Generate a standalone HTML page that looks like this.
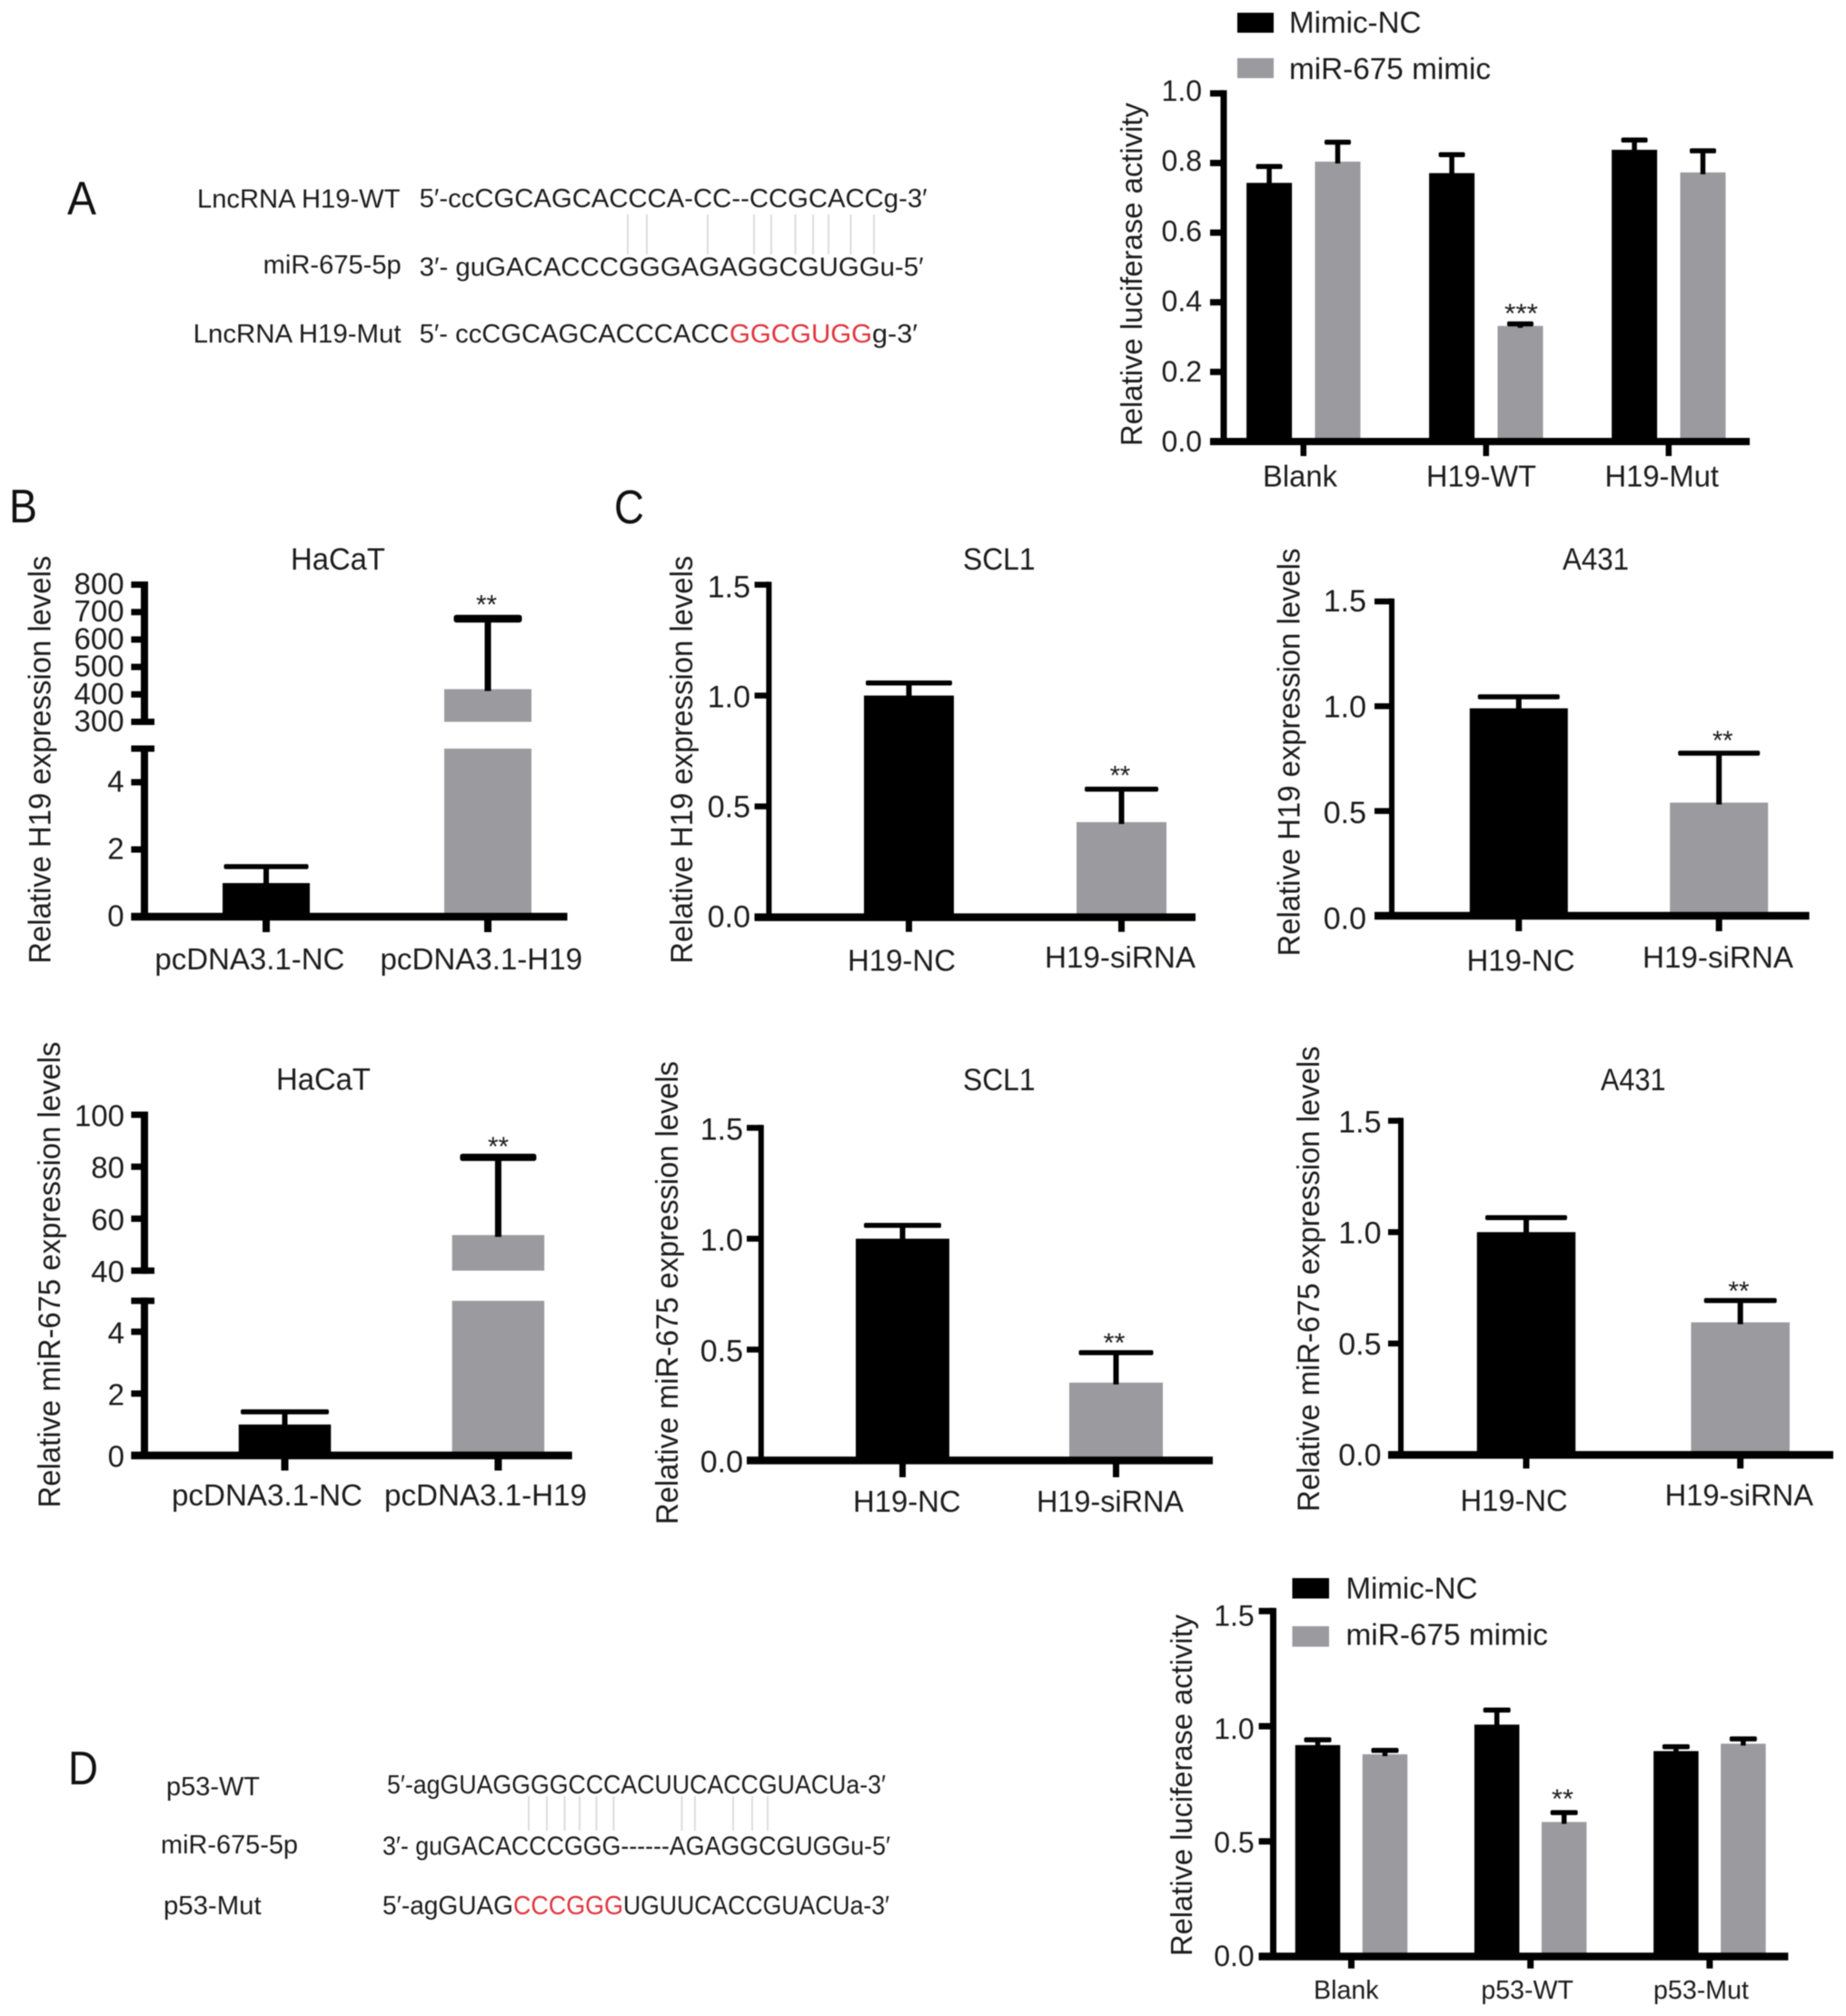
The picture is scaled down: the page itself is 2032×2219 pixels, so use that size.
<!DOCTYPE html>
<html lang="en">
<head>
<meta charset="utf-8">
<title>LncRNA H19, miR-675 and p53 figure</title>
<style>
  html, body { margin: 0; padding: 0; background: #fff; }
  #figure { display: block; width: 2032px; height: 2219px; filter: blur(0.6px); }
  text { font-family: "Liberation Sans", "DejaVu Sans", sans-serif; fill: #1c1c1c; }
  .red { fill: #e0333c; }
  .seq { font-size: 29px; }
  .letter { font-size: 52px; fill: #111; }
  .pair { stroke: #dcdcdc; stroke-width: 2; }
</style>
</head>
<body>
<svg id="figure" xmlns="http://www.w3.org/2000/svg" width="2032" height="2219" viewBox="0 0 2032 2219">
  <rect x="0" y="0" width="2032" height="2219" fill="#fff"/>

  <text class="letter" x="74" y="236" textLength="32" lengthAdjust="spacingAndGlyphs">A</text>
  <text class="letter" x="10" y="575" textLength="31" lengthAdjust="spacingAndGlyphs">B</text>
  <text class="letter" x="676" y="576" textLength="33" lengthAdjust="spacingAndGlyphs">C</text>
  <text class="letter" x="75" y="1964" textLength="33" lengthAdjust="spacingAndGlyphs">D</text>

  <g>
    <text class="seq" x="217" y="228.5" textLength="223.5" lengthAdjust="spacingAndGlyphs">LncRNA H19-WT</text>
    <text class="seq" x="461.6" y="228" textLength="559" lengthAdjust="spacingAndGlyphs">5′-ccCGCAGCACCCA-CC--CCGCACCg-3′</text>
    <text class="seq" x="289.7" y="301" textLength="152" lengthAdjust="spacingAndGlyphs">miR-675-5p</text>
    <text class="seq" x="461.6" y="303.5" textLength="555" lengthAdjust="spacingAndGlyphs">3′- guGACACCCGGGAGAGGCGUGGu-5′</text>
    <text class="seq" x="212.6" y="377" textLength="229" lengthAdjust="spacingAndGlyphs">LncRNA H19-Mut</text>
    <text class="seq" x="461.6" y="377" textLength="341" lengthAdjust="spacingAndGlyphs">5′- ccCGCAGCACCCACC</text>
    <text class="seq red" x="803" y="377" textLength="157" lengthAdjust="spacingAndGlyphs">GGCGUGG</text>
    <text class="seq" x="960" y="377" textLength="50" lengthAdjust="spacingAndGlyphs">g-3′</text>
    <g>
      <line class="pair" x1="691" x2="691" y1="236" y2="280"/>
      <line class="pair" x1="712" x2="712" y1="236" y2="280"/>
      <line class="pair" x1="779" x2="779" y1="236" y2="280"/>
      <line class="pair" x1="830" x2="830" y1="236" y2="280"/>
      <line class="pair" x1="849" x2="849" y1="236" y2="280"/>
      <line class="pair" x1="875.5" x2="875.5" y1="236" y2="280"/>
      <line class="pair" x1="895" x2="895" y1="236" y2="280"/>
      <line class="pair" x1="912" x2="912" y1="236" y2="280"/>
      <line class="pair" x1="936.5" x2="936.5" y1="236" y2="280"/>
      <line class="pair" x1="962" x2="962" y1="236" y2="280"/>
    </g>
  </g>

  <g>
    <text class="seq" x="183" y="1976" textLength="103" lengthAdjust="spacingAndGlyphs">p53-WT</text>
    <text class="seq" x="426" y="1974" textLength="549" lengthAdjust="spacingAndGlyphs">5′-agGUAGGGGCCCACUUCACCGUACUa-3′</text>
    <text class="seq" x="177" y="2040" textLength="151" lengthAdjust="spacingAndGlyphs">miR-675-5p</text>
    <text class="seq" x="421" y="2041.5" textLength="559" lengthAdjust="spacingAndGlyphs">3′- guGACACCCGGG------AGAGGCGUGGu-5′</text>
    <text class="seq" x="180" y="2107" textLength="107.6" lengthAdjust="spacingAndGlyphs">p53-Mut</text>
    <text class="seq" x="421" y="2107" textLength="144" lengthAdjust="spacingAndGlyphs">5′-agGUAG</text>
    <text class="seq red" x="565" y="2107" textLength="121" lengthAdjust="spacingAndGlyphs">CCCGGG</text>
    <text class="seq" x="686" y="2107" textLength="293" lengthAdjust="spacingAndGlyphs">UGUUCACCGUACUa-3′</text>
    <g>
      <line class="pair" x1="582" x2="582" y1="1977" y2="2015"/>
      <line class="pair" x1="602" x2="602" y1="1977" y2="2015"/>
      <line class="pair" x1="621.5" x2="621.5" y1="1977" y2="2015"/>
      <line class="pair" x1="638" x2="638" y1="1977" y2="2015"/>
      <line class="pair" x1="656.5" x2="656.5" y1="1977" y2="2015"/>
      <line class="pair" x1="675.5" x2="675.5" y1="1977" y2="2015"/>
      <line class="pair" x1="750.5" x2="750.5" y1="1977" y2="2015"/>
      <line class="pair" x1="765" x2="765" y1="1977" y2="2015"/>
      <line class="pair" x1="807" x2="807" y1="1977" y2="2015"/>
      <line class="pair" x1="828" x2="828" y1="1977" y2="2015"/>
      <line class="pair" x1="845" x2="845" y1="1977" y2="2015"/>
    </g>
  </g>

  <g>
    <rect x="1362" y="14" width="40" height="22" fill="#000"/>
    <text x="1419" y="36" font-size="33" textLength="145.5" lengthAdjust="spacingAndGlyphs">Mimic-NC</text>
    <rect x="1362" y="64" width="40" height="22" fill="#9a9a9f"/>
    <text x="1419" y="87" font-size="33" textLength="222" lengthAdjust="spacingAndGlyphs">miR-675 mimic</text>
  </g>
  <g>
    <rect x="1422.5" y="1737" width="40.5" height="22.5" fill="#000"/>
    <text x="1481.5" y="1759.5" font-size="33" textLength="145" lengthAdjust="spacingAndGlyphs">Mimic-NC</text>
    <rect x="1422.5" y="1790" width="40.5" height="22.5" fill="#9a9a9f"/>
    <text x="1481.5" y="1810.5" font-size="33" textLength="222.5" lengthAdjust="spacingAndGlyphs">miR-675 mimic</text>
  </g>

  <g id="charts"></g>
</svg>

<script>
// ---------- Data ----------
const lucH19Categories = ['Blank', 'H19-WT', 'H19-Mut'];
const lucH19MimicNC = [0.743, 0.771, 0.838];
const lucH19MimicNCErr = [0.047, 0.053, 0.028];
const lucH19Mimic675 = [0.804, 0.332, 0.773];
const lucH19Mimic675Err = [0.056, 0.006, 0.062];
const lucH19Ticks = [0, 0.2, 0.4, 0.6, 0.8, 1.0];
const lucH19TickLabels = ['0.0', '0.2', '0.4', '0.6', '0.8', '1.0'];

const hacatH19Categories = ['pcDNA3.1-NC', 'pcDNA3.1-H19'];
const hacatH19Values = [1, 419];
const hacatH19Err = [0.49, 257];
const hacatH19Ticks = [0, 2, 4, 5, 300, 400, 500, 600, 700, 800];
const hacatH19TickLabels = ['0', '2', '4', '', '300', '400', '500', '600', '700', '800'];

const hacat675Categories = ['pcDNA3.1-NC', 'pcDNA3.1-H19'];
const hacat675Values = [1, 53.7];
const hacat675Err = [0.41, 29.9];
const hacat675Ticks = [0, 2, 4, 5, 40, 60, 80, 100];
const hacat675TickLabels = ['0', '2', '4', '', '40', '60', '80', '100'];

const sirnaCategories = ['H19-NC', 'H19-siRNA'];
const sirnaTicks = [0, 0.5, 1.0, 1.5];
const sirnaTickLabels = ['0.0', '0.5', '1.0', '1.5'];

const scl1H19Values = [1, 0.429];
const scl1H19Err = [0.057, 0.149];
const a431H19Values = [0.99, 0.54];
const a431H19Err = [0.055, 0.236];
const scl1675Values = [1, 0.351];
const scl1675Err = [0.06, 0.135];
const a431675Values = [1, 0.595];
const a431675Err = [0.065, 0.098];

const lucP53Categories = ['Blank', 'p53-WT', 'p53-Mut'];
const lucP53MimicNC = [0.918, 1.007, 0.892];
const lucP53MimicNCErr = [0.023, 0.063, 0.019];
const lucP53Mimic675 = [0.878, 0.584, 0.924];
const lucP53Mimic675Err = [0.017, 0.041, 0.021];
const lucP53Ticks = [0, 0.5, 1.0, 1.5];
const lucP53TickLabels = ['0.0', '0.5', '1.0', '1.5'];

// ---------- Drawing helpers ----------
const SVG_NS = 'http://www.w3.org/2000/svg';
const BLACK = '#000000';
const GREY = '#9a9a9f';

function linear(d0, d1, r0, r1) {
  return function (v) { return r0 + (v - d0) * (r1 - r0) / (d1 - d0); };
}

function drawRect(parent, x, y, w, h, fill, name, radius) {
  const el = document.createElementNS(SVG_NS, 'rect');
  
  
  el.setAttribute('x', x);
  el.setAttribute('y', y);
  el.setAttribute('width', w);
  el.setAttribute('height', h);
  el.setAttribute('fill', fill);
  if (radius) el.setAttribute('rx', radius);
  parent.appendChild(el);
  return el;
}

function drawText(parent, content, x, y, size, name, anchor, length, rotate) {
  const el = document.createElementNS(SVG_NS, 'text');
  
  
  el.setAttribute('x', x);
  el.setAttribute('y', y);
  el.setAttribute('font-size', size);
  if (anchor) el.setAttribute('text-anchor', anchor);
  if (length) {
    el.setAttribute('textLength', length);
    el.setAttribute('lengthAdjust', 'spacingAndGlyphs');
  }
  if (rotate) el.setAttribute('transform', 'rotate(-90 ' + x + ' ' + y + ')');
  el.textContent = content;
  parent.appendChild(el);
  return el;
}

function drawChart(name, c) {
  const root = document.getElementById('charts');
  const g = document.createElementNS(SVG_NS, 'g');
  
  
  root.appendChild(g);

  const segments = c.segments.map(function (s) {
    return { d0: s.d[0], d1: s.d[1], r0: s.r[0], r1: s.r[1], scale: linear(s.d[0], s.d[1], s.r[0], s.r[1]) };
  });
  const y = function (v) {
    for (let i = 0; i < segments.length; i++) {
      if (v <= segments[i].d1) return segments[i].scale(v);
    }
    return segments[segments.length - 1].scale(v);
  };
  const groupX = linear(0, 1, c.groupX[0], c.groupX[1]);
  const y0 = y(0);

  // bars and error bars
  c.series.forEach(function (s, si) {
    c.categories.forEach(function (cat, i) {
      const slot = c.series.length > 1 ? si : i;
      const cx = groupX(i) + c.offsets[c.series.length > 1 ? si : 0];
      const v = s.values[i];
      const fill = c.series.length > 1 ? s.fill : c.barFills[i];
      segments.forEach(function (seg) {
        if (v > seg.d0) {
          const top = seg.scale(Math.min(v, seg.d1));
          const bottom = seg.scale(seg.d0);
          drawRect(g, cx - c.barW / 2, top, c.barW, bottom - top, fill, 'bar-' + s.key + '-' + cat);
        }
      });
      const upper = y(v + s.errors[i]);
      const capW = c.capW[slot];
      const capH = c.capH[slot];
      const stemW = c.stemW[slot];
      drawRect(g, cx - stemW / 2, upper, stemW, y(v) - upper + 2, BLACK, 'error-stem-' + s.key + '-' + cat);
      drawRect(g, cx - capW / 2, upper - capH / 2, capW, capH, BLACK, 'error-cap-' + s.key + '-' + cat, capH / 3);
    });
  });

  // y axis
  segments.forEach(function (seg) {
    drawRect(g, c.axisX - c.axisW / 2, seg.r1 - c.tickH / 2, c.axisW, seg.r0 - seg.r1 + c.tickH, BLACK, 'y-axis-line');
  });
  const tickMax = c.ticks[c.ticks.length - 1];
  const dy = linear(0, tickMax, c.tickDy[0], c.tickDy[1]);
  c.ticks.forEach(function (t, i) {
    const ty = y(t);
    const long = (c.longTicks || []).indexOf(t) >= 0;
    const right = long ? c.axisX + 11 : c.axisX;
    drawRect(g, c.tickLeft, ty - c.tickH / 2, right - c.tickLeft, c.tickH, BLACK, 'y-tick');
    if (c.tickLabels[i]) {
      drawText(g, c.tickLabels[i], c.tickRight, ty + dy(t), c.tickFont, 'y-tick-label', 'end');
    }
  });

  // x axis
  drawRect(g, c.tickLeft, y0 - c.xAxisH / 2, c.xAxisRight - c.tickLeft, c.xAxisH, BLACK, 'x-axis-line');
  c.categories.forEach(function (cat, i) {
    drawRect(g, groupX(i) - c.xTickW / 2, y0, c.xTickW, c.xTickBottom - y0, BLACK, 'x-tick');
    const lab = c.xLabels[i];
    drawText(g, cat, lab.x, lab.y, c.xFont, 'x-tick-label', null, lab.w);
  });

  // y title, chart title, significance stars
  drawText(g, c.yTitle.text, c.yTitle.x, c.yTitle.y, c.yTitle.size, 'y-axis-title', null, c.yTitle.len, true);
  if (c.title) drawText(g, c.title.text, c.title.x, c.title.y, 34, 'chart-title', null, c.title.w);
  const st = c.star;
  drawText(g, st.text, st.x, st.bottom + 10, 30, 'significance-stars', null, st.w);
}

// ---------- Charts ----------
drawChart('luciferase-h19-chart', {
  categories: lucH19Categories,
  series: [
    { key: 'mimic-nc', values: lucH19MimicNC, errors: lucH19MimicNCErr, fill: BLACK },
    { key: 'mir-675-mimic', values: lucH19Mimic675, errors: lucH19Mimic675Err, fill: GREY }
  ],
  segments: [{ d: [0, 1], r: [486, 102.8] }],
  ticks: lucH19Ticks, tickLabels: lucH19TickLabels,
  axisX: 1347, axisW: 7, tickLeft: 1332, tickH: 7,
  xAxisRight: 1926, xAxisH: 8, tickRight: 1323, tickDy: [11, 8], tickFont: 32,
  groupX: [1434.8, 1635.8], offsets: [-37.7, 37.7], barW: 50,
  capW: [29, 29], capH: [5.5, 5.5], stemW: [5.5, 5.5],
  xTickW: 6.5, xTickBottom: 502, xFont: 33,
  xLabels: [{ x: 1390, w: 82, y: 535.5 }, { x: 1570, w: 121, y: 535.5 }, { x: 1766.5, w: 125.5, y: 535.5 }],
  yTitle: { text: 'Relative luciferase activity', x: 1257, y: 491, len: 378, size: 33 },
  star: { text: '***', x: 1656, w: 37, bottom: 345 }
});

drawChart('hacat-h19-chart', {
  categories: hacatH19Categories,
  series: [{ key: 'hacat-h19', values: hacatH19Values, errors: hacatH19Err }],
  barFills: [BLACK, GREY],
  segments: [{ d: [0, 5], r: [1009, 824] }, { d: [300, 800], r: [794.5, 643.5] }],
  ticks: hacatH19Ticks, tickLabels: hacatH19TickLabels, longTicks: [5, 300],
  axisX: 159, axisW: 8, tickLeft: 144.4, tickH: 7,
  xAxisRight: 624.5, xAxisH: 8.5, tickRight: 136.6, tickDy: [10.5, 10.5], tickFont: 33,
  groupX: [293, 537], offsets: [0], barW: 96,
  capW: [93, 75], capH: [5.5, 8.5], stemW: [6, 7],
  xTickW: 8, xTickBottom: 1026, xFont: 33,
  xLabels: [{ x: 170.4, w: 209, y: 1066.8 }, { x: 418.5, w: 222.5, y: 1066.8 }],
  yTitle: { text: 'Relative H19 expression levels', x: 55.5, y: 1060.7, len: 449, size: 34 },
  title: { text: 'HaCaT', x: 320, w: 104, y: 626.8 },
  star: { text: '**', x: 524, w: 23, bottom: 665.7 }
});

drawChart('hacat-mir-675-chart', {
  categories: hacat675Categories,
  series: [{ key: 'hacat-mir-675', values: hacat675Values, errors: hacat675Err }],
  barFills: [BLACK, GREY],
  segments: [{ d: [0, 5], r: [1602, 1431.8] }, { d: [40, 100], r: [1398.6, 1227] }],
  ticks: hacat675Ticks, tickLabels: hacat675TickLabels, longTicks: [5, 40],
  axisX: 159, axisW: 8, tickLeft: 144.4, tickH: 7,
  xAxisRight: 629.7, xAxisH: 8.5, tickRight: 137, tickDy: [12.5, 12.5], tickFont: 33,
  groupX: [313.5, 548.4], offsets: [0], barW: 101.5,
  capW: [97, 84], capH: [5.5, 8], stemW: [6, 7],
  xTickW: 8, xTickBottom: 1618.6, xFont: 33,
  xLabels: [{ x: 189, w: 210, y: 1656.8 }, { x: 423, w: 223, y: 1656.8 }],
  yTitle: { text: 'Relative miR-675 expression levels', x: 66, y: 1659.6, len: 513, size: 34 },
  title: { text: 'HaCaT', x: 304, w: 104, y: 1199.6 },
  star: { text: '**', x: 537, w: 23, bottom: 1262 }
});

drawChart('scl1-h19-chart', {
  categories: sirnaCategories,
  series: [{ key: 'scl1-h19', values: scl1H19Values, errors: scl1H19Err }],
  barFills: [BLACK, GREY],
  segments: [{ d: [0, 1.5], r: [1009.6, 643.6] }],
  ticks: sirnaTicks, tickLabels: sirnaTickLabels,
  axisX: 846.4, axisW: 6, tickLeft: 830.6, tickH: 6.5,
  xAxisRight: 1316, xAxisH: 8.5, tickRight: 826, tickDy: [11, 14], tickFont: 34,
  groupX: [1000.5, 1234.5], offsets: [0], barW: 99,
  capW: [95, 81], capH: [5.5, 5.5], stemW: [6, 6],
  xTickW: 7, xTickBottom: 1025.7, xFont: 33,
  xLabels: [{ x: 933, w: 119, y: 1068.6 }, { x: 1150, w: 166, y: 1065 }],
  yTitle: { text: 'Relative H19 expression levels', x: 762, y: 1060.7, len: 449, size: 34 },
  title: { text: 'SCL1', x: 1060, w: 79.5, y: 627 },
  star: { text: '**', x: 1221.7, w: 22.5, bottom: 853.6 }
});

drawChart('a431-h19-chart', {
  categories: sirnaCategories,
  series: [{ key: 'a431-h19', values: a431H19Values, errors: a431H19Err }],
  barFills: [BLACK, GREY],
  segments: [{ d: [0, 1.5], r: [1008, 662] }],
  ticks: sirnaTicks, tickLabels: sirnaTickLabels,
  axisX: 1532, axisW: 6, tickLeft: 1513, tickH: 6.5,
  xAxisRight: 1991.6, xAxisH: 8.5, tickRight: 1504, tickDy: [14.5, 11], tickFont: 34,
  groupX: [1671.8, 1892.2], offsets: [0], barW: 108,
  capW: [90, 90], capH: [5.5, 5.5], stemW: [6, 6],
  xTickW: 7, xTickBottom: 1025, xFont: 33,
  xLabels: [{ x: 1614.5, w: 119, y: 1068.6 }, { x: 1808, w: 166, y: 1065 }],
  yTitle: { text: 'Relative H19 expression levels', x: 1430.6, y: 1052.5, len: 449, size: 34 },
  title: { text: 'A431', x: 1720, w: 73, y: 627 },
  star: { text: '**', x: 1885, w: 22.6, bottom: 815 }
});

drawChart('scl1-mir-675-chart', {
  categories: sirnaCategories,
  series: [{ key: 'scl1-mir-675', values: scl1675Values, errors: scl1675Err }],
  barFills: [BLACK, GREY],
  segments: [{ d: [0, 1.5], r: [1607.5, 1241.4] }],
  ticks: sirnaTicks, tickLabels: sirnaTickLabels,
  axisX: 837.8, axisW: 6, tickLeft: 822, tickH: 6.5,
  xAxisRight: 1335, xAxisH: 8.5, tickRight: 818, tickDy: [13, 13], tickFont: 34,
  groupX: [993.5, 1228.5], offsets: [0], barW: 103,
  capW: [85, 82], capH: [5.5, 5.5], stemW: [6, 6],
  xTickW: 7, xTickBottom: 1626, xFont: 33,
  xLabels: [{ x: 939, w: 118.6, y: 1664 }, { x: 1141, w: 162, y: 1664 }],
  yTitle: { text: 'Relative miR-675 expression levels', x: 746, y: 1678, len: 510, size: 34 },
  title: { text: 'SCL1', x: 1060, w: 79.5, y: 1200 },
  star: { text: '**', x: 1214.5, w: 24, bottom: 1478 }
});

drawChart('a431-mir-675-chart', {
  categories: sirnaCategories,
  series: [{ key: 'a431-mir-675', values: a431675Values, errors: a431675Err }],
  barFills: [BLACK, GREY],
  segments: [{ d: [0, 1.5], r: [1601.4, 1233.6] }],
  ticks: sirnaTicks, tickLabels: sirnaTickLabels,
  axisX: 1542, axisW: 6, tickLeft: 1528, tickH: 6.5,
  xAxisRight: 2018, xAxisH: 8.5, tickRight: 1520.5, tickDy: [11.5, 13], tickFont: 34,
  groupX: [1680, 1915.7], offsets: [0], barW: 108.5,
  capW: [90, 80], capH: [5.5, 5.5], stemW: [6, 6],
  xTickW: 7, xTickBottom: 1616.4, xFont: 33,
  xLabels: [{ x: 1607.5, w: 118.2, y: 1663 }, { x: 1832.6, w: 163.4, y: 1657 }],
  yTitle: { text: 'Relative miR-675 expression levels', x: 1452, y: 1664, len: 512.6, size: 34 },
  title: { text: 'A431', x: 1762, w: 71.5, y: 1200 },
  star: { text: '**', x: 1902.4, w: 23.2, bottom: 1421 }
});

drawChart('luciferase-p53-chart', {
  categories: lucP53Categories,
  series: [
    { key: 'mimic-nc', values: lucP53MimicNC, errors: lucP53MimicNCErr, fill: BLACK },
    { key: 'mir-675-mimic', values: lucP53Mimic675, errors: lucP53Mimic675Err, fill: GREY }
  ],
  segments: [{ d: [0, 1.5], r: [2153.5, 1773.3] }],
  ticks: lucP53Ticks, tickLabels: lucP53TickLabels,
  axisX: 1401.5, axisW: 7, tickLeft: 1385.6, tickH: 7,
  xAxisRight: 1968.4, xAxisH: 8.5, tickRight: 1380.7, tickDy: [10.5, 16], tickFont: 32,
  groupX: [1487.5, 1684.7], offsets: [-37, 37], barW: 49.5,
  capW: [30, 30], capH: [5.5, 5.5], stemW: [5.5, 5.5],
  xTickW: 7, xTickBottom: 2166.7, xFont: 29,
  xLabels: [{ x: 1446, w: 71.6, y: 2200 }, { x: 1630.4, w: 101.6, y: 2200 }, { x: 1820, w: 105, y: 2200 }],
  yTitle: { text: 'Relative luciferase activity', x: 1312, y: 2153, len: 376, size: 33 },
  star: { text: '**', x: 1708, w: 24, bottom: 1980 }
});
</script>
</body>
</html>
